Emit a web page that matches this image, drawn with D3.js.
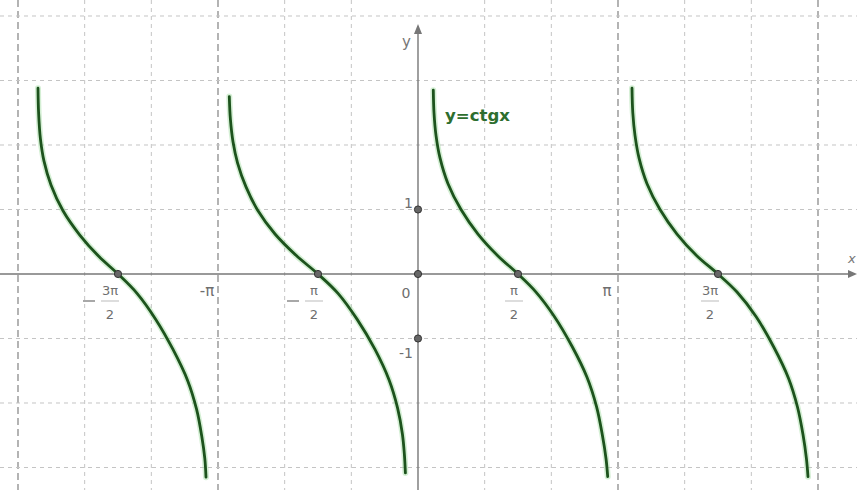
<!DOCTYPE html>
<html>
<head>
<meta charset="utf-8">
<script src="https://cdn.jsdelivr.net/npm/d3@7"></script>
<style>
  body { margin: 0; background: #fff; }
  svg { display: block; }
  text { font-family: "DejaVu Sans", sans-serif; }
</style>
</head>
<body>
<svg id="chart" width="857" height="490"></svg>
<script>
// branches of y = ctg x; x is in units of pi
const branch1 = [[-1.900, 2.88], [-1.897, 2.50], [-1.888, 2.10], [-1.870, 1.75], [-1.835, 1.38], [-1.775, 0.98],
  [-1.690, 0.60], [-1.595, 0.27], [-1.500, 0], [-1.405, -0.30], [-1.312, -0.70], [-1.225, -1.17], [-1.152, -1.65],
  [-1.107, -2.10], [-1.081, -2.52], [-1.066, -2.86], [-1.060, -3.15]];
const branch2 = [[-0.9435, 2.75], [-0.938, 2.40], [-0.925, 2.05], [-0.902, 1.72], [-0.860, 1.35], [-0.800, 0.98],
  [-0.715, 0.62], [-0.610, 0.29], [-0.500, 0], [-0.400, -0.30], [-0.305, -0.70], [-0.215, -1.17], [-0.145, -1.64],
  [-0.102, -2.08], [-0.078, -2.48], [-0.068, -2.80], [-0.063, -3.085]];
const branch3 = [[0.0765, 2.85], [0.080, 2.50], [0.090, 2.15], [0.110, 1.80], [0.150, 1.40], [0.215, 1.00],
  [0.300, 0.62], [0.400, 0.28], [0.500, 0], [0.590, -0.28], [0.680, -0.65], [0.770, -1.12], [0.845, -1.60],
  [0.893, -2.06], [0.922, -2.50], [0.940, -2.86], [0.9485, -3.14]];
const branch4 = [[1.070, 2.88], [1.074, 2.50], [1.085, 2.15], [1.105, 1.80], [1.145, 1.40], [1.210, 1.00],
  [1.295, 0.62], [1.395, 0.28], [1.500, 0], [1.595, -0.28], [1.690, -0.66], [1.780, -1.14], [1.853, -1.62],
  [1.898, -2.07], [1.925, -2.49], [1.942, -2.86], [1.950, -3.143]];

// marked points
const xZeros = [-1.5, -0.5, 0.5, 1.5];
const yMarks = [1, 0, -1];

// tick labels
const piLabels = [{v: -1, t: "-π"}, {v: 1, t: "π"}];
const fracLabels = [
  {v: -1.5, num: "3π", den: "2", neg: true},
  {v: -0.5, num: "π", den: "2", neg: true},
  {v: 0.5, num: "π", den: "2", neg: false},
  {v: 1.5, num: "3π", den: "2", neg: false}
];
const yLabels = [{v: 1, t: "1"}, {v: -1, t: "-1"}];

const width = 857, height = 490;
const svg = d3.select("#chart");

const x = d3.scaleLinear().domain([-2.09, 2.195]).range([0, width]);
const y = d3.scaleLinear().domain([4.248, -3.349]).range([0, height]);

// grid
const grid = svg.append("g");
d3.range(-6, 7).forEach(k => {
  if (k === 0) return;
  const major = k % 3 === 0;
  grid.append("line")
    .attr("x1", x(k / 3)).attr("x2", x(k / 3))
    .attr("y1", 0).attr("y2", height)
    .attr("stroke", major ? "#8c8c8c" : "#c4c4c4")
    .attr("stroke-width", major ? 1.3 : 1)
    .attr("stroke-dasharray", major ? "7,4" : "4,4");
});
d3.range(-3, 5).forEach(k => {
  if (k === 0) return;
  grid.append("line")
    .attr("x1", 0).attr("x2", width)
    .attr("y1", y(k)).attr("y2", y(k))
    .attr("stroke", "#c4c4c4")
    .attr("stroke-dasharray", "4,4");
});

// axes
const axisColor = "#777";
svg.append("line")
  .attr("x1", 0).attr("x2", width - 4)
  .attr("y1", y(0)).attr("y2", y(0))
  .attr("stroke", axisColor).attr("stroke-width", 1.4);
svg.append("path")
  .attr("d", `M${width},${y(0)} l-9,-4 l0,8 z`)
  .attr("fill", axisColor);
svg.append("line")
  .attr("x1", x(0)).attr("x2", x(0))
  .attr("y1", height).attr("y2", 30)
  .attr("stroke", axisColor).attr("stroke-width", 1.4);
svg.append("path")
  .attr("d", `M${x(0)},24 l-4,10 l8,0 z`)
  .attr("fill", axisColor);

svg.append("text").attr("x", 848).attr("y", 263)
  .attr("font-size", 13).attr("font-style", "italic").attr("fill", "#777").text("x");
svg.append("text").attr("x", 402).attr("y", 47)
  .attr("font-size", 15).attr("fill", "#777").text("y");

// curves
const line = d3.line()
  .x(d => x(d[0]))
  .y(d => y(d[1]))
  .curve(d3.curveCatmullRom.alpha(0.5));

const branches = [branch1, branch2, branch3, branch4];
svg.append("g").selectAll("path.halo")
  .data(branches).join("path")
  .attr("d", line)
  .attr("fill", "none")
  .attr("stroke", "#9fdc9f")
  .attr("stroke-opacity", 0.45)
  .attr("stroke-width", 6)
  .attr("stroke-linecap", "round");
svg.append("g").selectAll("path.curve")
  .data(branches).join("path")
  .attr("d", line)
  .attr("fill", "none")
  .attr("stroke", "#1d531d")
  .attr("stroke-width", 2.8)
  .attr("stroke-linecap", "round");

// points
const pts = svg.append("g");
xZeros.forEach(v => {
  pts.append("circle").attr("cx", x(v)).attr("cy", y(0)).attr("r", 3.6)
    .attr("fill", "#666").attr("stroke", "#333").attr("stroke-width", 1);
});
yMarks.forEach(v => {
  pts.append("circle").attr("cx", x(0)).attr("cy", y(v)).attr("r", 3.6)
    .attr("fill", "#666").attr("stroke", "#333").attr("stroke-width", 1);
});

// labels
const labelColor = "#6e6e6e";
piLabels.forEach(d => {
  svg.append("text").attr("x", x(d.v) - 11).attr("y", 296)
    .attr("text-anchor", "middle").attr("font-size", 15)
    .attr("font-family", "DejaVu Serif, serif")
    .attr("fill", labelColor).text(d.t);
});
svg.append("text").attr("x", x(0) - 12).attr("y", 298)
  .attr("text-anchor", "middle").attr("font-size", 14)
  .attr("fill", labelColor).text("0");
yLabels.forEach(d => {
  svg.append("text").attr("x", x(0) - 5).attr("y", y(d.v) + (d.v > 0 ? -1 : 20))
    .attr("text-anchor", "end").attr("font-size", 14)
    .attr("fill", labelColor).text(d.t);
});
fracLabels.forEach(d => {
  const cx = x(d.v) - (d.num === "3π" ? 8 : 4);
  const g = svg.append("g").attr("fill", labelColor);
  g.append("text").attr("x", cx).attr("y", 295)
    .attr("text-anchor", "middle").attr("font-size", 13)
    .attr("font-family", "DejaVu Serif, serif").text(d.num);
  g.append("line").attr("x1", cx - 9).attr("x2", cx + 9)
    .attr("y1", 301).attr("y2", 301)
    .attr("stroke", "#bbb").attr("stroke-width", 1);
  g.append("text").attr("x", cx).attr("y", 319)
    .attr("text-anchor", "middle").attr("font-size", 13)
    .attr("font-family", "DejaVu Serif, serif").text(d.den);
  if (d.neg) {
    g.append("line").attr("x1", cx - 27).attr("x2", cx - 15)
      .attr("y1", 301).attr("y2", 301)
      .attr("stroke", labelColor).attr("stroke-width", 1.2);
  }
});

// curve name
svg.append("text").attr("x", 445).attr("y", 121)
  .attr("font-size", 15).attr("font-weight", "bold")
  .attr("fill", "#2e6e2e")
  .attr("textLength", 65).attr("lengthAdjust", "spacingAndGlyphs")
  .text("y=ctgx");
</script>
</body>
</html>
